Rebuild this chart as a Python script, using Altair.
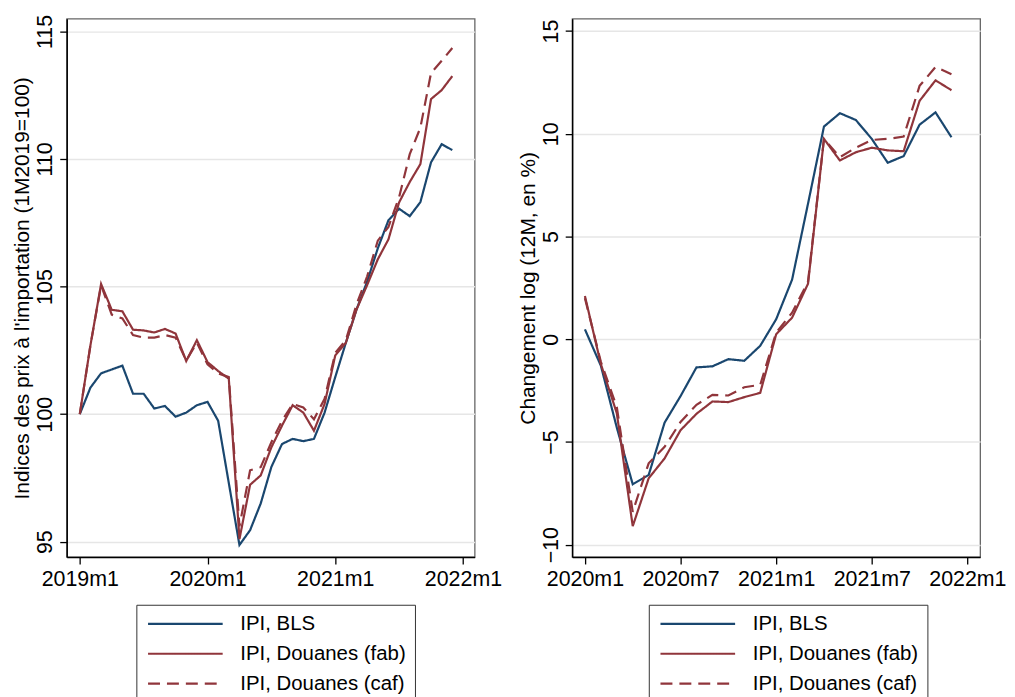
import altair as alt
import pandas as pd

series_names = ["IPI, BLS", "IPI, Douanes (fab)", "IPI, Douanes (caf)"]
series_colors = ["#1a476f", "#90353b", "#90353b"]
series_dashes = [[1, 0], [1, 0], [12, 7]]

# Left panel: index levels, 2019m1 .. 2021m12
left_bls = [100.0, 101.04, 101.6, 101.75, 101.9, 100.8, 100.8, 100.22, 100.32, 99.9, 100.06, 100.35,
            100.48, 99.74, 97.3, 94.87, 95.45, 96.5, 97.93, 98.83, 99.03, 98.94, 99.03, 100.06,
            101.45, 102.8, 104.1, 105.2, 106.5, 107.6, 108.05, 107.76, 108.31, 109.87, 110.58, 110.35]
left_fab = [100.0, 102.7, 105.1, 104.09, 104.03, 103.31, 103.28, 103.2, 103.34, 103.16, 102.08, 102.9,
            102.04, 101.69, 101.39, 95.1, 97.23, 97.6, 98.7, 99.55, 100.35, 100.06, 99.35, 100.4,
            102.3, 102.8, 104.1, 105.06, 106.07, 106.85, 108.3, 109.1, 109.8, 112.35, 112.7, 113.25]
left_caf = [100.0, 102.7, 105.05, 103.9, 103.75, 103.1, 103.0, 103.0, 103.1, 103.0, 102.1, 102.8,
            101.95, 101.6, 101.45, 95.6, 97.8, 97.92, 98.9, 99.74, 100.4, 100.26, 99.8, 100.6,
            102.4, 102.9, 104.3, 105.4, 106.8, 107.34, 108.5, 110.19, 111.23, 113.37, 113.85, 114.35]

# Right panel: 12-month log change in %, 2020m1 .. 2021m12
right_bls = [0.48, -1.29, -4.3, -7.06, -6.61, -4.06, -2.77, -1.37, -1.32, -0.97, -1.05, -0.32,
             0.97, 2.9, 6.6, 10.35, 11.0, 10.67, 9.75, 8.59, 8.91, 10.44, 11.04, 9.83]
right_fab = [2.1, -1.21, -3.6, -9.1, -6.77, -5.8, -4.43, -3.63, -3.03, -3.06, -2.82, -2.61,
             0.24, 1.05, 2.7, 9.75, 8.7, 9.1, 9.32, 9.19, 9.15, 11.6, 12.6, 12.12]
right_caf = [2.0, -1.1, -3.3, -8.4, -6.04, -5.24, -4.03, -3.19, -2.71, -2.74, -2.34, -2.22,
             0.32, 1.29, 2.8, 9.75, 8.86, 9.32, 9.7, 9.75, 9.86, 12.33, 13.25, 12.9]

left_ticks_x = [0, 12, 24, 36]
right_ticks_x = [0, 6, 12, 18, 24]
left_ticks_y = [95, 100, 105, 110, 115]
right_ticks_y = [-10, -5, 0, 5, 10, 15]

FONT = "Liberation Sans"
LABEL_FS = 21.5
TITLE_FS = 21
LEGEND_FS = 20.5
PW, PH = 410, 541


def long_df(lists):
    rows = []
    for k, (name, vals) in enumerate(zip(series_names, lists)):
        for i, v in enumerate(vals):
            rows.append({"t": i, "value": v, "series": name, "k": k})
    return pd.DataFrame(rows)


def legend(lx):
    return alt.Legend(
        title=None, orient="none", legendX=lx, legendY=589, direction="vertical",
        strokeColor="#333333", fillColor="white", padding=9,
        symbolType="M-1,0H9", symbolSize=225, symbolStrokeWidth=2.2,
        labelFontSize=LEGEND_FS, labelFont=FONT, labelColor="black",
        labelOffset=75, rowPadding=9, labelLimit=400,
    )


def panel(df, base_year, xdom, xticks, ydom, yticks, ytitle, lx):
    return alt.Chart(df).mark_line(strokeWidth=2.2).encode(
        x=alt.X("t:Q", scale=alt.Scale(domain=xdom, nice=False, zero=False),
                axis=alt.Axis(values=xticks, title=None, grid=False,
                              labelExpr=f"({base_year} + floor(datum.value/12)) + 'm' + (datum.value % 12 + 1)")),
        y=alt.Y("value:Q", scale=alt.Scale(domain=ydom, nice=False, zero=False),
                axis=alt.Axis(values=yticks, title=ytitle, grid=True,
                              labelAngle=270, labelAlign="center", labelBaseline="bottom",
                              labelPadding=3, titlePadding=2)),
        color=alt.Color("series:N", scale=alt.Scale(domain=series_names, range=series_colors), legend=legend(lx)),
        strokeDash=alt.StrokeDash("series:N", scale=alt.Scale(domain=series_names, range=series_dashes), legend=legend(lx)),
        order="k:Q",
    ).properties(width=PW, height=PH)


left = panel(long_df([left_bls, left_fab, left_caf]), 2019, [-1.23, 37.1], left_ticks_x,
             [94.4, 115.5], left_ticks_y, "Indices des prix à l'importation (1M2019=100)", 70)
right = panel(long_df([right_bls, right_fab, right_caf]), 2020, [-0.8, 24.8], right_ticks_x,
              [-10.6, 15.6], right_ticks_y, "Changement log (12M, en %)", 77)

chart = alt.hconcat(left, right, spacing=14).resolve_scale(
    color="independent", strokeDash="independent"
).resolve_legend(
    color="independent", strokeDash="independent"
).properties(
    padding={"left": 3, "top": 4, "right": 0, "bottom": 0}
).configure_view(
    stroke="#666666", strokeWidth=1.3
).configure_axis(
    labelFont=FONT, titleFont=FONT, labelFontSize=LABEL_FS, titleFontSize=TITLE_FS,
    titleFontWeight="normal", labelColor="black", titleColor="black",
    domainColor="black", domainWidth=1.5, tickColor="black", tickWidth=1.3, tickSize=7,
    gridColor="#e6e6e6", gridWidth=1.5,
).configure_axisX(labelPadding=5)

chart.save("out.html", embed_options={"renderer": "svg", "actions": False})
